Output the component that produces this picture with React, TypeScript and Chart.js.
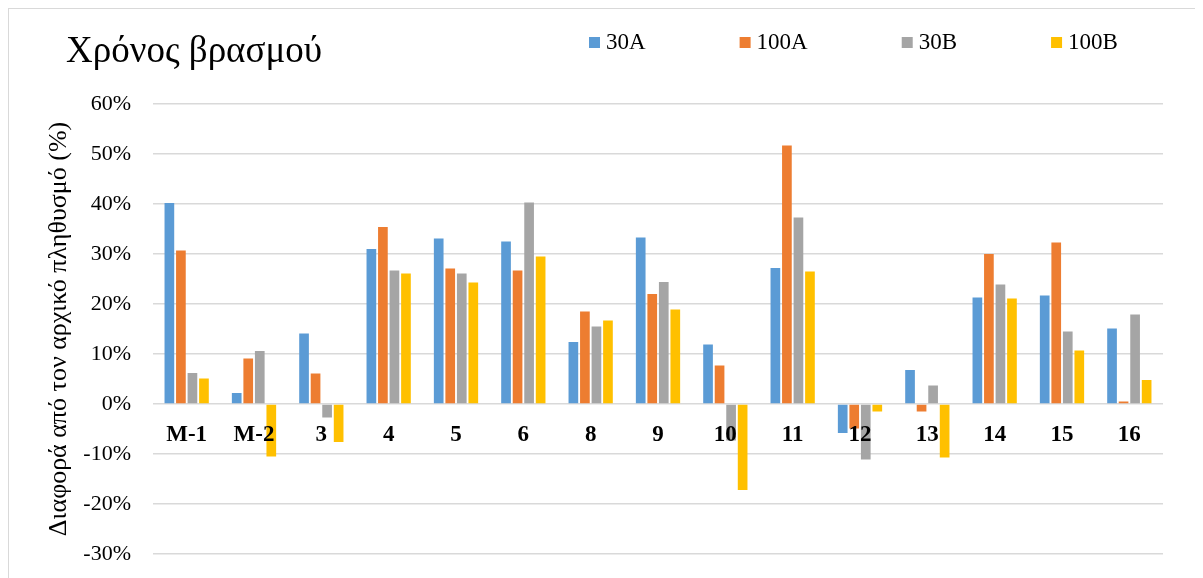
import React, { useEffect, useRef } from 'react';
import { Chart, registerables } from 'chart.js';

Chart.register(...registerables);

const categories = ['M-1', 'M-2', '3', '4', '5', '6', '8', '9', '10', '11', '12', '13', '14', '15', '16'];
const seriesNames = ['30A', '100A', '30B', '100B'];
const s30A = [40.2, 2.2, 14.1, 31.0, 33.1, 32.5, 12.4, 33.3, 11.9, 27.2, -5.8, 6.8, 21.3, 21.7, 15.1];
const s100A = [30.7, 9.1, 6.1, 35.4, 27.1, 26.7, 18.5, 22.0, 7.7, 51.7, -4.9, -1.5, 30.0, 32.3, 0.5];
const s30B = [6.2, 10.6, -2.7, 26.7, 26.1, 40.3, 15.5, 24.4, -7.3, 37.3, -11.1, 3.7, 23.9, 14.5, 17.9];
const s100B = [5.1, -10.5, -7.6, 26.1, 24.3, 29.5, 16.7, 18.9, -17.2, 26.5, -1.5, -10.7, 21.1, 10.7, 4.8];
const seriesColors = ['#5B9BD5', '#ED7D31', '#A5A5A5', '#FFC000'];
const yMin = -30;
const yMax = 60;
const yStep = 10;
const chartTitle = 'Χρόνος βρασμού';
const yAxisTitle = 'Διαφορά από τον αρχικό πληθυσμό (%)';

const FONT = "'Liberation Serif', 'Times New Roman', serif";

const headerPlugin = {
  id: 'headerPlugin',
  afterDraw(chart: any) {
    const ctx = chart.ctx;
    ctx.save();
    ctx.textAlign = 'left';
    ctx.textBaseline = 'alphabetic';
    ctx.fillStyle = '#000';
    ctx.font = `37px ${FONT}`;
    ctx.fillText(chartTitle, 57, 53);
    ctx.font = `23px ${FONT}`;
    let x = 580;
    chart.data.datasets.forEach((ds: any) => {
      ctx.fillStyle = ds.backgroundColor;
      ctx.fillRect(x, 28, 11, 11);
      ctx.fillStyle = '#000';
      ctx.fillText(ds.label, x + 17, 40);
      x += 17 + ctx.measureText(ds.label).width + 94;
    });
    ctx.restore();
  },
};

export default function App() {
  const ref = useRef<HTMLCanvasElement>(null);

  useEffect(() => {
    if (!ref.current) return;
    const values = [s30A, s100A, s30B, s100B];
    const chart = new Chart(ref.current, {
      type: 'bar',
      data: {
        labels: categories,
        datasets: seriesNames.map((name, i) => ({
          label: name,
          data: values[i],
          backgroundColor: seriesColors[i],
          borderWidth: 0,
          barPercentage: 0.84,
          categoryPercentage: 0.685,
        })),
      },
      options: {
        responsive: false,
        animation: false,
        devicePixelRatio: 1,
        layout: { padding: { top: 95, right: 40, bottom: 24, left: 0 } },
        plugins: {
          legend: { display: false },
          title: { display: false },
          tooltip: { enabled: false },
        },
        scales: {
          x: {
            type: 'category',
            position: { y: 0 } as any,
            grid: { display: false, drawTicks: false },
            border: { display: false },
            ticks: {
              z: 1,
              color: '#000',
              font: { family: FONT, size: 23, weight: 'bold' },
              padding: 17,
              maxRotation: 0,
              autoSkip: false,
            },
          },
          y: {
            min: yMin,
            max: yMax,
            afterFit: (scale: any) => {
              scale.width = 144;
              scale.paddingTop = 0;
              scale.paddingBottom = 0;
            },
            grid: { color: '#d9d9d9', lineWidth: 1.5, drawTicks: false },
            border: { display: false },
            ticks: {
              stepSize: yStep,
              color: '#000',
              font: { family: FONT, size: 22 },
              padding: 22,
              callback: (v: any) => `${v}%`,
            },
            title: {
              display: true,
              text: yAxisTitle,
              color: '#000',
              font: { family: FONT, size: 26 },
              padding: { top: 35, bottom: 0 },
            },
          },
        },
      },
      plugins: [headerPlugin],
    });
    return () => chart.destroy();
  }, []);

  return (
    <div
      style={{
        width: 1195,
        height: 570,
        boxSizing: 'border-box',
        borderTop: '1px solid #d9d9d9',
        borderLeft: '1px solid #d9d9d9',
        background: '#fff',
        overflow: 'hidden',
      }}
    >
      <canvas ref={ref} width={1194} height={569} style={{ display: 'block' }} />
    </div>
  );
}
